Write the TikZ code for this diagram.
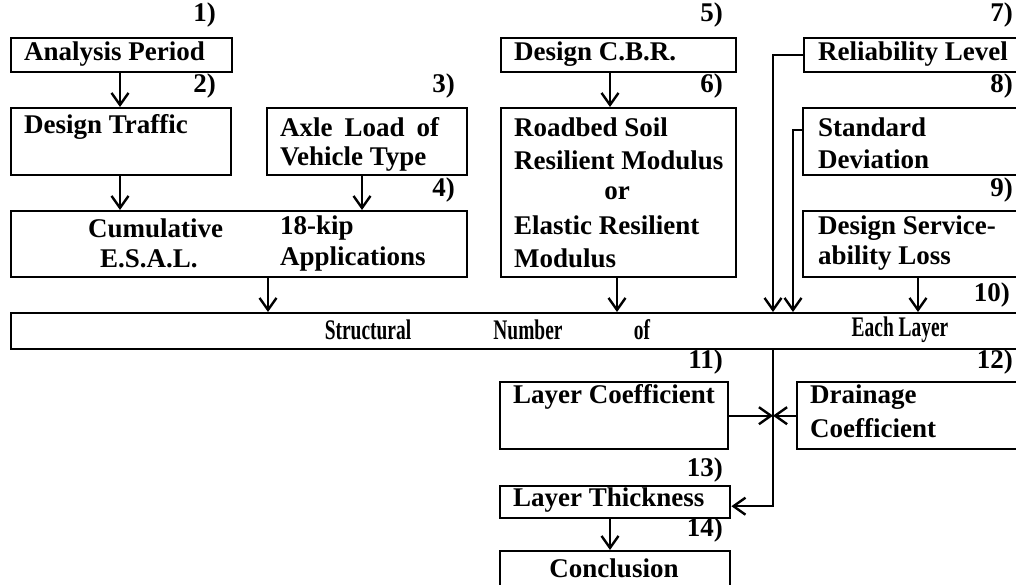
\documentclass[tikz,border=0pt]{standalone}
\usepackage{fontspec}
\setmainfont{Liberation Serif}
\usetikzlibrary{arrows.meta}
\begin{document}
\begin{tikzpicture}[x=1pt,y=-1pt,
  box/.style={draw,line width=2.4pt,rectangle,inner sep=0pt,anchor=north west},
  txt/.style={anchor=west,inner sep=0pt,font=\fontsize{27}{30}\selectfont\bfseries},
  num/.style={anchor=east,inner sep=0pt,font=\fontsize{27}{30}\selectfont\bfseries},
  arr/.style={line width=2.4pt,-{Straight Barb[length=12pt,width=17pt,line width=2.4pt]}},
  con/.style={line width=2.4pt}]
\path[use as bounding box,clip] (0,0) rectangle (1016,585);
\fill[white] (0,0) rectangle (1016,585);
% boxes
\node[box,minimum width=221pt,minimum height=34pt] (b1) at (10,37) {};
\node[box,minimum width=220pt,minimum height=67pt] (b2) at (10,107) {};
\node[box,minimum width=200pt,minimum height=67pt] (b3) at (266,107) {};
\node[box,minimum width=456pt,minimum height=66pt] (b4) at (10,210) {};
\node[box,minimum width=235pt,minimum height=34pt] (b5) at (500,37) {};
\node[box,minimum width=235pt,minimum height=169pt] (b6) at (500,107) {};
\node[box,minimum width=230pt,minimum height=34pt] (b7) at (803,37) {};
\node[box,minimum width=230pt,minimum height=67pt] (b8) at (802,107) {};
\node[box,minimum width=230pt,minimum height=66pt] (b9) at (802,210) {};
\node[box,minimum width=1020pt,minimum height=36pt] (b10) at (10,312) {};
\node[box,minimum width=228pt,minimum height=67pt] (b11) at (499,381) {};
\node[box,minimum width=235pt,minimum height=67pt] (b12) at (796,381) {};
\node[box,minimum width=230pt,minimum height=32pt] (b13) at (499,485) {};
\node[box,minimum width=230pt,minimum height=60pt] (b14) at (499,550) {};
% texts
\node[txt] (t1) at (24,54) {Analysis Period};
\node[txt] (t2) at (24,127) {Design Traffic};
\node[txt] (t3a) at (280,127) {Axle\hspace{12pt}Load\hspace{12pt}of};
\node[txt] (t3b) at (280,159) {Vehicle Type};
\node[txt] (t4a) at (88,228) {Cumulative};
\node[txt] (t4b) at (280,228) {18-kip};
\node[txt] (t4c) at (100,259) {E.S.A.L.};
\node[txt] (t4d) at (280,259) {Applications};
\node[txt] (t5) at (514,54) {Design C.B.R.};
\node[txt] (t6a) at (514,127) {Roadbed Soil};
\node[txt] (t6b) at (514,160) {Resilient Modulus};
\node[txt,anchor=center] (t6c) at (617,193) {or};
\node[txt] (t6d) at (514,225) {Elastic Resilient};
\node[txt] (t6e) at (514,258) {Modulus};
\node[txt] (t7) at (818,54) {Reliability Level};
\node[txt] (t8a) at (818,127) {Standard};
\node[txt] (t8b) at (818,159) {Deviation};
\node[txt] (t9a) at (818,228) {Design Service-};
\node[txt] (t9b) at (818,258) {ability Loss};
\node[txt,anchor=center] (t10a) at (368,330) {\scalebox{0.72}[1.05]{Structural}};
\node[txt,anchor=center] (t10b) at (528,330) {\scalebox{0.72}[1.05]{Number}};
\node[txt,anchor=center] (t10c) at (642,330) {\scalebox{0.72}[1.05]{of}};
\node[txt,anchor=center] (t10d) at (900,330) {\scalebox{0.72}[1.05]{Each Layer}};
\node[txt] (t11) at (513,397) {Layer Coefficient};
\node[txt] (t12a) at (810,397) {Drainage};
\node[txt] (t12b) at (810,428) {Coefficient};
\node[txt] (t13) at (513,500) {Layer Thickness};
\node[txt,anchor=center] (t14) at (614,568) {Conclusion};
% numbers
\node[num] (n1) at (216,15) {1)};
\node[num] (n2) at (216,86) {2)};
\node[num] (n3) at (455,86) {3)};
\node[num] (n4) at (455,190) {4)};
\node[num] (n5) at (723,15) {5)};
\node[num] (n6) at (723,86) {6)};
\node[num] (n7) at (1013,15) {7)};
\node[num] (n8) at (1013,86) {8)};
\node[num] (n9) at (1013,190) {9)};
\node[num] (n10) at (1010,295) {10)};
\node[num] (n11) at (723,362) {11)};
\node[num] (n12) at (1013,362) {12)};
\node[num] (n13) at (723,470) {13)};
\node[num] (n14) at (723,530) {14)};
% connectors
\draw[arr] ([xshift=110pt]b1.south west) -- ([xshift=110pt]b2.north west);
\draw[arr] ([xshift=110pt]b2.south west) -- ([xshift=110pt]b4.north west);
\draw[arr] ([xshift=96pt]b3.south west) -- ([xshift=352pt]b4.north west);
\draw[arr] ([xshift=258pt]b4.south west) -- ([xshift=258pt]b10.north west);
\draw[arr] ([xshift=110pt]b5.south west) -- ([xshift=110pt]b6.north west);
\draw[arr] ([xshift=117pt]b6.south west) -- ([xshift=607pt]b10.north west);
\draw[arr] ([xshift=116pt]b9.south west) -- ([xshift=908pt]b10.north west);
\draw[arr] (b7.west) -| ([xshift=763pt]b10.north west);
\draw[arr] ([yshift=-23pt]b8.north west) -| ([xshift=783pt]b10.north west);
\coordinate (j) at ([xshift=763pt]b10.south west |- b11.east);
\draw[arr] ([xshift=763pt]b10.south west) |- ([yshift=-4pt]b13.east);
\draw[arr] (b11.east) -- (j);
\draw[arr] (b12.west) -- (j);
\draw[arr] ([xshift=111pt]b13.south west) -- ([xshift=111pt]b14.north west);
\end{tikzpicture}
\end{document}
